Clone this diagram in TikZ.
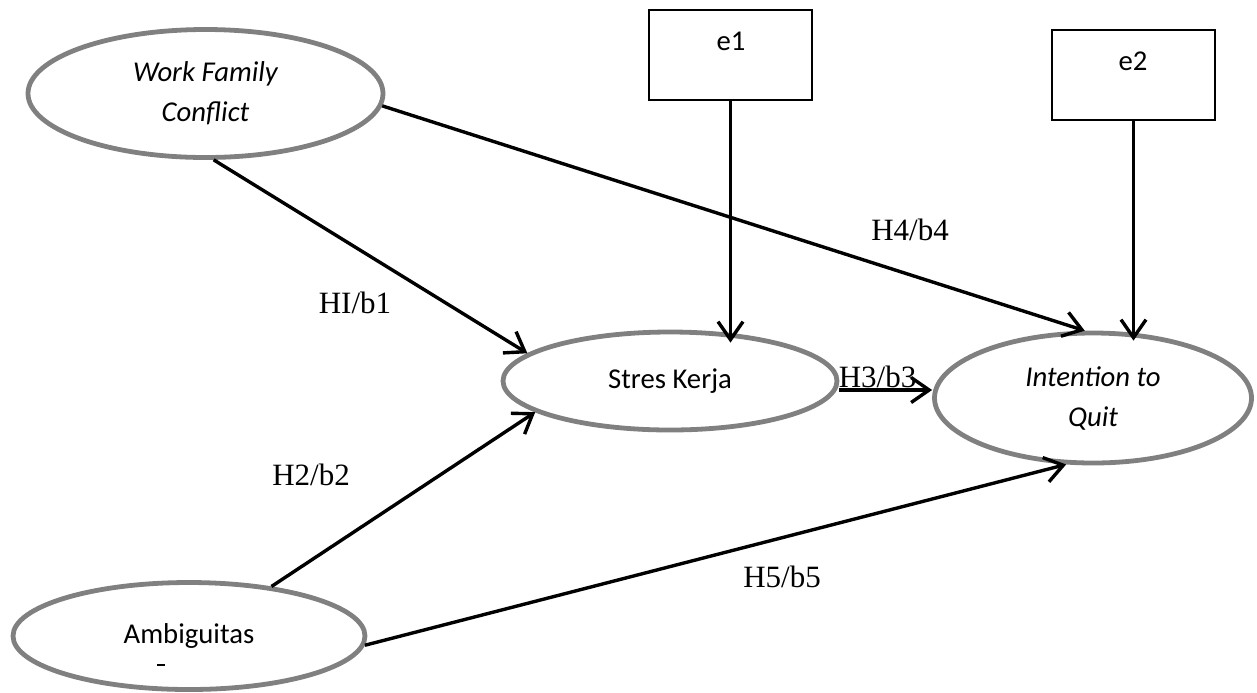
\documentclass[tikz,border=0pt]{standalone}
\usepackage{fontspec}
\setmainfont{Liberation Serif}
\newfontfamily\calfont{Carlito}
\usetikzlibrary{shapes.geometric,arrows.meta}
\definecolor{ellgray}{RGB}{128,128,128}
\begin{document}
\begin{tikzpicture}[x=0.5pt,y=-0.5pt,
  ell/.style={ellipse, draw=ellgray, line width=2.4pt, inner sep=0pt, align=center,
    font=\calfont\fontsize{14.35}{20}\selectfont},
  itell/.style={ell, font=\calfont\itshape\fontsize{14.35}{20}\selectfont},
  ebox/.style={draw, line width=1.1pt, minimum width=81.5pt, minimum height=45pt, inner sep=0pt},
  etext/.style={font=\calfont\fontsize{14.35}{17}\selectfont, inner sep=0pt, anchor=base},
  arr/.style={line width=1.7pt, -{Straight Barb[length=9pt,width=12.5pt,line width=1.7pt]}},
  lab/.style={font=\fontsize{15.5}{18}\selectfont, inner sep=0pt, anchor=base}
]
\useasboundingbox (0,0) rectangle (1257,692);

% latent variables
\node[itell, minimum width=177.5pt, minimum height=64pt] (wfc) at (205.5,93.5) {Work Family\\Conflict};
\node[ell, minimum width=167pt, minimum height=49pt] (sk) at (670,381) {Stres Kerja};
\node[itell, minimum width=158.5pt, minimum height=65pt] (iq) at (1093,398) {Intention to\\Quit};
\node[ell, minimum width=176pt, minimum height=53.5pt] (amb) at (189,636) {Ambiguitas};
\draw[line width=0.6pt] (157,665) -- (165,665);

% error boxes
\node[ebox] (e1) at (730.5,55) {};
\node[etext] (e1t) at (731,50) {e1};
\node[ebox] (e2) at (1133.5,75) {};
\node[etext] (e2t) at (1133,70) {e2};

% connectors
\draw[arr, shorten >=-6.5pt] (e1.south) -- (e1.south |- sk.north);
\draw[arr, shorten >=-5pt] (e2.south) -- (e2.south |- iq.north);
\draw[arr] (wfc.-83) -- (sk.169);
\draw[arr] (wfc.-4.7) -- (iq.97);
\draw[arr] ([yshift=-4.5pt]sk.east) -- ([yshift=-4.5pt]sk.east -| iq.west);
\draw[arr] (amb.31) -- (sk.193);
\draw[arr] (amb.-3.3) -- (iq.248);

% path labels
\node[lab] (l1) at (355,313) {HI/b1};
\node[lab] (l4) at (910,240) {H4/b4};
\node[lab] (l2) at (311,485) {H2/b2};
\node[lab] (l5) at (782,587) {H5/b5};
\node[lab] (l3) at (877.5,387) {H3/b3};
\end{tikzpicture}
\end{document}
